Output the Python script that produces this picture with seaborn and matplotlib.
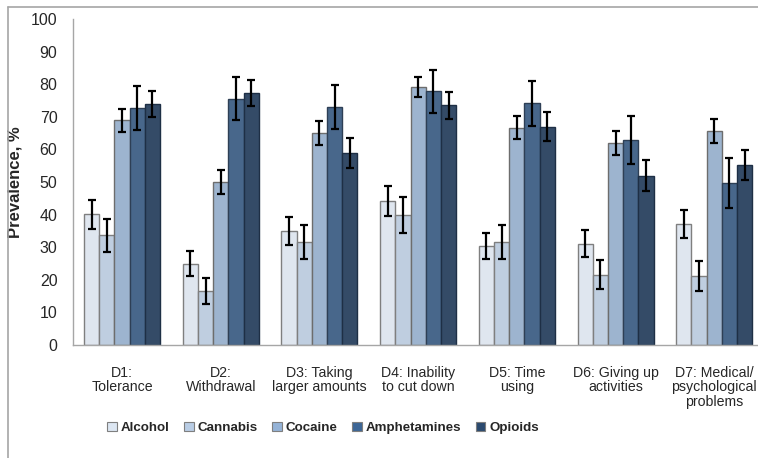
import matplotlib
matplotlib.use("Agg")
import matplotlib.pyplot as plt
from matplotlib import font_manager
from matplotlib.lines import Line2D
from matplotlib.patches import Patch
import numpy as np
import pandas as pd
import seaborn as sns

# DSM criteria (categories) and substances (series)
criteria = [
    "D1:\nTolerance",
    "D2:\nWithdrawal",
    "D3: Taking\nlarger amounts",
    "D4: Inability\nto cut down",
    "D5: Time\nusing",
    "D6: Giving up\nactivities",
    "D7: Medical/\npsychological\nproblems",
]
substances = ["Alcohol", "Cannabis", "Cocaine", "Amphetamines", "Opioids"]

# Prevalence (%) per criterion for each substance
alcohol = [40.1, 24.9, 35.0, 44.1, 30.4, 31.1, 37.0]
cannabis = [33.6, 16.6, 31.6, 39.8, 31.6, 21.6, 21.2]
cocaine = [68.9, 50.0, 65.1, 79.1, 66.6, 62.0, 65.7]
amphetamines = [72.6, 75.5, 73.0, 77.8, 74.1, 62.9, 49.7]
opioids = [73.9, 77.3, 58.9, 73.5, 67.0, 51.9, 55.1]

# 95% CI half-widths
alcohol_err = [4.4, 3.8, 4.3, 4.6, 4.0, 4.2, 4.3]
cannabis_err = [5.1, 4.0, 5.1, 5.5, 5.1, 4.5, 4.5]
cocaine_err = [3.6, 3.8, 3.6, 3.1, 3.5, 3.7, 3.6]
amphetamines_err = [6.8, 6.6, 6.8, 6.5, 6.8, 7.4, 7.6]
opioids_err = [4.1, 4.0, 4.5, 4.2, 4.4, 4.7, 4.6]

yticks = list(range(0, 101, 10))

colors = ["#dce6f2", "#b9cde5", "#95b3d7", "#3d6696", "#2b4a6f"]
edges = ["#7f7f7f", "#7f7f7f", "#6d6d6d", "#2e3f55", "#1e2f45"]

values = [alcohol, cannabis, cocaine, amphetamines, opioids]
errors = [alcohol_err, cannabis_err, cocaine_err, amphetamines_err, opioids_err]

df = pd.DataFrame({
    "criterion": np.repeat([criteria], len(substances), axis=0).ravel(),
    "substance": np.repeat(substances, len(criteria)),
    "prevalence": np.concatenate(values),
})

sns.set_theme(style="white")

names = {f.name for f in font_manager.fontManager.ttflist}
narrow = "Liberation Sans Narrow" if "Liberation Sans Narrow" in names else "Liberation Sans"
plt.rcParams["font.family"] = ["Liberation Sans", "DejaVu Sans"]

fig = plt.figure(figsize=(7.58, 4.58), dpi=100)
W, H = 758, 458
ax_left, ax_right, ax_top, ax_bottom = 72.7, 763.6, 19, 345
ax = fig.add_axes([ax_left / W, 1 - ax_bottom / H,
                   (ax_right - ax_left) / W, (ax_bottom - ax_top) / H])

sns.barplot(data=df, x="criterion", y="prevalence", hue="substance",
            order=criteria, hue_order=substances, palette=colors,
            errorbar=None, width=0.77, gap=0, linewidth=1.0,
            edgecolor="#7f7f7f", legend=False, ax=ax)

for container, edge, err in zip(ax.containers, edges, errors):
    xs, hs = [], []
    for bar in container:
        bar.set_edgecolor(edge)
        xs.append(bar.get_x() + bar.get_width() / 2)
        hs.append(bar.get_height())
    ax.errorbar(xs, hs, yerr=err, fmt="none", ecolor="black",
                elinewidth=1.6, capsize=2.8, capthick=1.6, zorder=5)

ax.set_ylim(0, 100)
ax.set_xlim(-0.5, len(criteria) - 0.5)
ax.set_yticks(yticks)
ax.set_yticklabels([str(t) for t in yticks], fontsize=11.5)
ax.tick_params(axis="y", length=0, pad=11)
ax.tick_params(axis="x", length=0, pad=15)
for lbl in ax.get_xticklabels():
    lbl.set_fontfamily(narrow)
    lbl.set_fontsize(10.2)
    lbl.set_linespacing(1.05)
ax.set_xlabel("")
ax.set_ylabel("Prevalence, %", fontsize=12, fontweight="bold")
ax.yaxis.set_label_coords((22 - ax_left) / (ax_right - ax_left), 0.5)

for side in ["top", "right"]:
    ax.spines[side].set_visible(False)
for side in ["left", "bottom"]:
    ax.spines[side].set_color("#a6a6a6")
    ax.spines[side].set_linewidth(1.0)

handles = [Patch(facecolor=c, edgecolor="#7f7f7f", linewidth=0.8) for c in colors]
fig.legend(handles, substances, loc="center", bbox_to_anchor=(323 / W, 1 - 428 / H),
           ncol=5, frameon=False, handlelength=0.7, handleheight=0.7,
           handletextpad=0.3, columnspacing=1.1,
           prop={"family": narrow, "weight": "bold", "size": 9.6})

# chart-area border
fig.add_artist(Line2D([8 / W, 8 / W], [0, 1 - 7 / H], transform=fig.transFigure,
                      color="#a6a6a6", linewidth=1.2))
fig.add_artist(Line2D([8 / W, 1], [1 - 7 / H, 1 - 7 / H], transform=fig.transFigure,
                      color="#a6a6a6", linewidth=1.2))

fig.savefig("out.png", dpi=100)
